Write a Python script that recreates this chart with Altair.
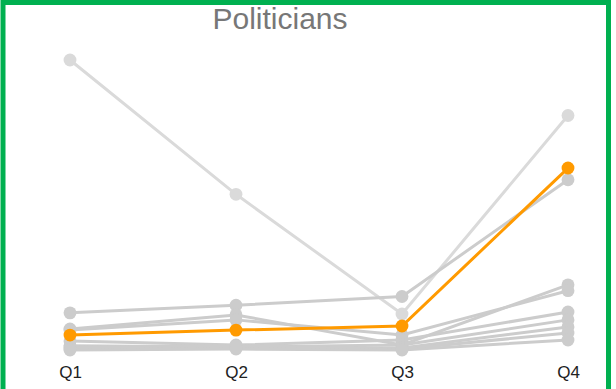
import altair as alt
import pandas as pd

# Quarterly values per politician; one series is highlighted
quarters = ["Q1", "Q2", "Q3", "Q4"]
series_names = ["P1", "P2", "P3", "P4", "P5", "P6", "P7", "P8", "P9", "P10"]
series_values = [
    [100, 54, 13, 81],
    [13.4, 16, 19, 59],
    [5.8, 7.5, 8.9, 63],
    [7.9, 12.7, 2.4, 23],
    [7.5, 11, 5.8, 21],
    [3.8, 2.4, 4.1, 13.7],
    [2.1, 1.7, 2.4, 11],
    [1.0, 1.4, 1.4, 8.6],
    [1.7, 2.1, 1.0, 6.5],
    [0.7, 1.0, 0.7, 4.1],
]
highlight = "P3"
faded = "P1"

rows = []
for name, vals in zip(series_names, series_values):
    for q, v in zip(quarters, vals):
        rows.append({"name": name, "quarter": q, "value": v})
df = pd.DataFrame(rows)

GREEN = "#00b050"
GRAY = "#cccccc"
LIGHT_GRAY = "#dadada"
ORANGE = "#ff9a00"

x_enc = alt.X(
    "quarter:O",
    scale=alt.Scale(type="point", domain=quarters, range=[70, 568], padding=0),
    axis=alt.Axis(title=None, domain=False, ticks=False, grid=False,
                  labelAngle=0, labelFontSize=17, labelColor="#222222",
                  labelFont="Liberation Sans", labelPadding=6),
)
y_enc = alt.Y("value:Q", scale=alt.Scale(domain=[0, 100], range=[352, 60],
                                         nice=False, zero=True), axis=None)

base = alt.Chart(df).encode(x=x_enc, y=y_enc, detail="name:N")


def series_layer(filter_expr, color):
    return base.transform_filter(filter_expr).mark_line(
        color=color, strokeWidth=3, point=alt.OverlayMarkDef(
            filled=True, size=165, color=color, opacity=1))


faded_line = series_layer(f"datum.name == '{faded}'", LIGHT_GRAY)
gray_lines = series_layer(
    f"datum.name != '{faded}' && datum.name != '{highlight}'", GRAY)
orange_line = series_layer(f"datum.name == '{highlight}'", ORANGE)

frame = alt.Chart(pd.DataFrame({"f": [0]})).mark_rect(
    fill=None, stroke=GREEN, strokeWidth=5
).encode(x=alt.value(3), x2=alt.value(608.5), y=alt.value(2.5),
         y2=alt.value(430))

chart = alt.layer(faded_line, gray_lines, orange_line, frame).properties(
    width=616,
    height=358,
    padding={"left": 0, "top": 0, "right": 0, "bottom": 31},
    autosize=alt.AutoSizeParams(type="none"),
    background="white",
    title=alt.TitleParams(text="Politicians", fontSize=30, color="#777777",
                          font="Liberation Sans", fontWeight="normal",
                          anchor="middle", dx=-28, dy=63, baseline="alphabetic"),
).configure_view(stroke=None)

chart.save("out.html", embed_options={"renderer": "svg", "actions": False})
